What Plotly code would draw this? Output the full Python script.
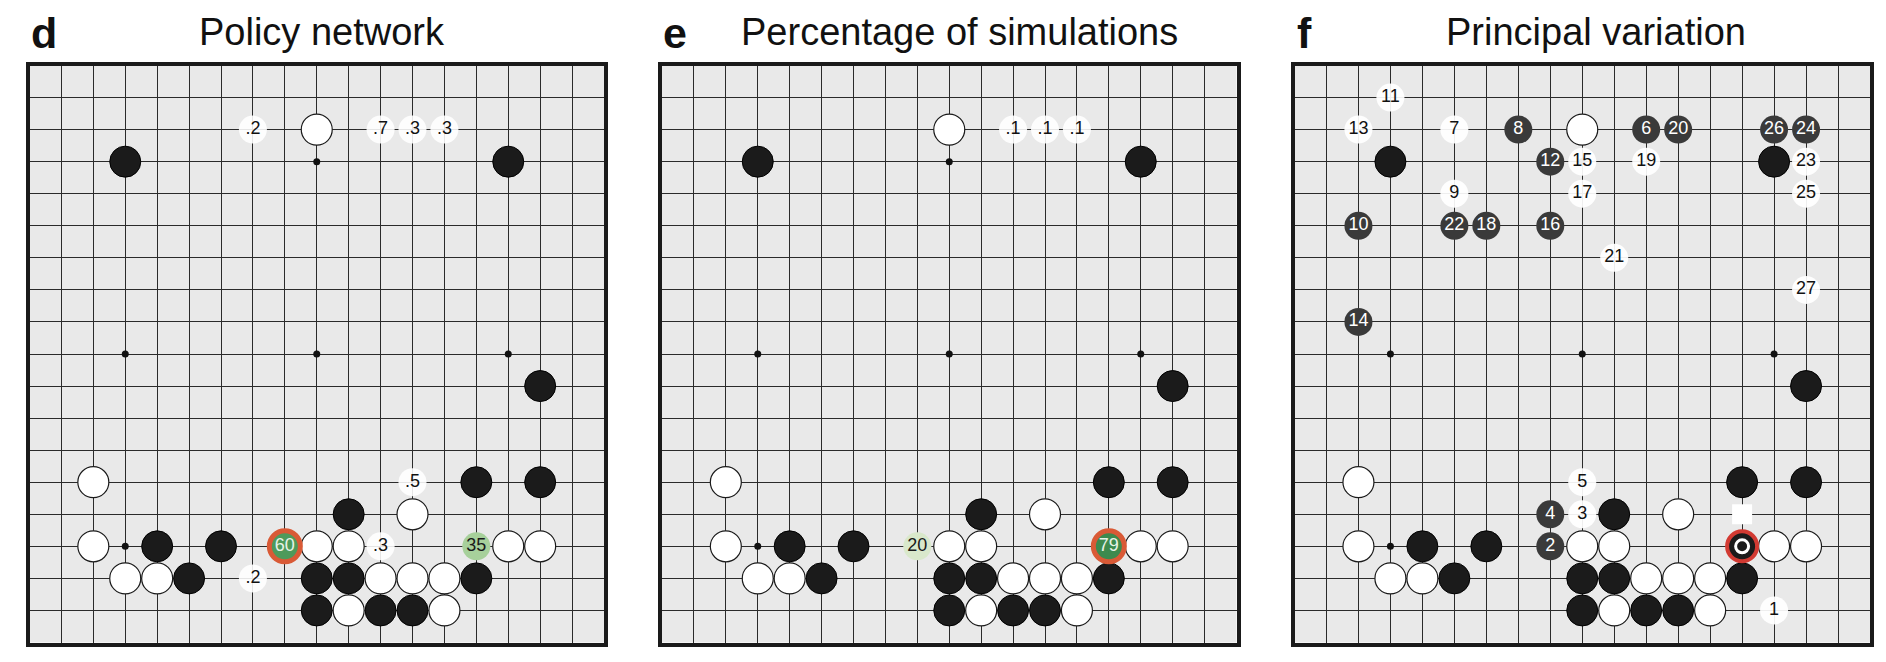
import plotly.graph_objects as go

# board positions are (column, row) counted from the top-left corner, 0..18
black_cols = [3, 15, 16, 14, 16, 10, 4, 6, 5, 9, 10, 14, 9, 11, 12]
black_rows = [3, 3, 10, 13, 13, 14, 15, 15, 16, 16, 16, 16, 17, 17, 17]
white_cols = [9, 2, 12, 2, 9, 10, 15, 16, 3, 4, 11, 12, 13, 10, 13]
white_rows = [2, 13, 14, 15, 15, 15, 15, 15, 16, 16, 16, 16, 16, 17, 17]
star_cols = [3, 9, 15, 3, 9, 15, 3, 9, 15]
star_rows = [3, 3, 3, 9, 9, 9, 15, 15, 15]

# d: policy network move probabilities (%)
policy_cols = [7, 11, 12, 13, 12, 11, 7]
policy_rows = [2, 2, 2, 2, 13, 15, 16]
policy_text = ['.2', '.7', '.3', '.3', '.5', '.3', '.2']
policy_best = (8, 15, '60')
policy_second = (14, 15, '35')

# e: percentage of simulations
sims_cols = [11, 12, 13]
sims_rows = [2, 2, 2]
sims_text = ['.1', '.1', '.1']
sims_best = (14, 15, '79')
sims_second = (8, 15, '20')

# f: principal variation, move number -> position
pv_moves = list(range(1, 28))
pv_cols = [15, 8, 9, 8, 9, 11, 5, 7, 5, 2, 3, 8, 2, 2, 9, 8, 9, 6, 11, 12, 10, 5, 16, 16, 16, 15, 16]
pv_rows = [17, 15, 14, 14, 13, 2, 2, 2, 4, 5, 1, 3, 2, 8, 3, 5, 4, 5, 3, 2, 6, 5, 3, 2, 4, 2, 7]
played_move = (14, 15)
square_mark = (14, 14)

titles = ['Policy network', 'Percentage of simulations', 'Principal variation']
letters = ['d', 'e', 'f']

# the page body adds an 8px margin, so everything is placed 8px up/left
OFF = 8
W, H = 1886 - 2 * OFF, 662 - 2 * OFF
board_px = [(29.5, 604), (662, 1236.5), (1294.5, 1870)]
board_top, board_bottom = 65.5, 642.5
title_centers = [322, 960, 1596]
letter_x = [30, 662, 1296]

STONE = 31
FONT = 'Liberation Sans, Arial, sans-serif'

fig = go.Figure()


def ax(i):
    return ('x' if i == 0 else 'x%d' % (i + 1)), ('y' if i == 0 else 'y%d' % (i + 1))


def add_base(i):
    xa, ya = ax(i)
    fig.add_trace(go.Scatter(x=star_cols, y=star_rows, mode='markers', xaxis=xa, yaxis=ya,
                             marker=dict(size=7, color='#111'), hoverinfo='skip'))
    fig.add_trace(go.Scatter(x=black_cols, y=black_rows, mode='markers', xaxis=xa, yaxis=ya,
                             marker=dict(size=STONE, color='#1b1b1b', line=dict(color='#000', width=1)),
                             hoverinfo='skip'))
    fig.add_trace(go.Scatter(x=white_cols, y=white_rows, mode='markers', xaxis=xa, yaxis=ya,
                             marker=dict(size=STONE, color='#ffffff', line=dict(color='#1a1a1a', width=1.2)),
                             hoverinfo='skip'))


def add_labels(i, cols, rows, text, fill, txtcolor, size=28, line=None):
    xa, ya = ax(i)
    fig.add_trace(go.Scatter(x=cols, y=rows, text=text, mode='markers+text', xaxis=xa, yaxis=ya,
                             textposition='middle center',
                             textfont=dict(family=FONT, size=18, color=txtcolor),
                             marker=dict(size=size, color=fill, line=line or dict(width=0)),
                             hoverinfo='skip'))


for i in range(3):
    add_base(i)

# d
add_labels(0, policy_cols, policy_rows, policy_text, 'rgba(255,255,255,0.88)', '#111')
add_labels(0, [policy_second[0]], [policy_second[1]], [policy_second[2]], '#a7d09b', '#1a1a1a')
add_labels(0, [policy_best[0]], [policy_best[1]], [policy_best[2]], '#4e9a5b', '#e8f3e8',
           size=31, line=dict(color='#d95a36', width=5))

# e
add_labels(1, sims_cols, sims_rows, sims_text, 'rgba(255,255,255,0.88)', '#111')
add_labels(1, [sims_second[0]], [sims_second[1]], [sims_second[2]], '#d9e8cb', '#1a1a1a')
add_labels(1, [sims_best[0]], [sims_best[1]], [sims_best[2]], '#3d8a4e', '#e8f3e8',
           size=31, line=dict(color='#d95a36', width=5))

# f
xa, ya = ax(2)
fig.add_trace(go.Scatter(x=[played_move[0]], y=[played_move[1]], mode='markers', xaxis=xa, yaxis=ya,
                         marker=dict(size=30, color='#1b1b1b', line=dict(color='#d23a32', width=4)),
                         hoverinfo='skip'))
fig.add_trace(go.Scatter(x=[played_move[0]], y=[played_move[1]], mode='markers', xaxis=xa, yaxis=ya,
                         marker=dict(size=13, symbol='circle-open', color='#ffffff', line=dict(width=3)),
                         hoverinfo='skip'))
fig.add_trace(go.Scatter(x=[square_mark[0]], y=[square_mark[1]], mode='markers', xaxis=xa, yaxis=ya,
                         marker=dict(size=20, symbol='square', color='#ffffff'), hoverinfo='skip'))
odd = [k for k, m in enumerate(pv_moves) if m % 2 == 1]
even = [k for k, m in enumerate(pv_moves) if m % 2 == 0]
add_labels(2, [pv_cols[k] for k in odd], [pv_rows[k] for k in odd], [str(pv_moves[k]) for k in odd],
           'rgba(255,255,255,0.92)', '#111')
add_labels(2, [pv_cols[k] for k in even], [pv_rows[k] for k in even], [str(pv_moves[k]) for k in even],
           '#3a3a3a', '#ffffff')

layout = dict(
    width=W, height=H,
    margin=dict(l=0, r=0, t=0, b=0),
    paper_bgcolor='white',
    plot_bgcolor='#e9e9e9',
    showlegend=False,
)
annotations = []
for i in range(3):
    x0, x1 = board_px[i]
    axis_common = dict(tick0=0, dtick=1, showticklabels=False, ticks='',
                       showgrid=True, gridcolor='#2a2a2a', gridwidth=1.3, zeroline=False,
                       showline=True, mirror=True, linecolor='#1a1a1a', linewidth=3.5,
                       fixedrange=True)
    xkey = 'xaxis' if i == 0 else 'xaxis%d' % (i + 1)
    ykey = 'yaxis' if i == 0 else 'yaxis%d' % (i + 1)
    xa, ya = ax(i)
    layout[xkey] = dict(axis_common, range=[0, 18],
                        domain=[(x0 - OFF) / W, (x1 - OFF) / W], anchor=ya)
    layout[ykey] = dict(axis_common, range=[18, 0],
                        domain=[1 - (board_bottom - OFF) / H, 1 - (board_top - OFF) / H], anchor=xa)
    annotations.append(dict(text=titles[i], x=(title_centers[i] - OFF) / W, y=1 - 1.5 / H,
                            xref='paper', yref='paper', xanchor='center', yanchor='top', borderpad=0,
                            showarrow=False, font=dict(family=FONT, size=38, color='#111')))
    annotations.append(dict(text='<b>%s</b>' % letters[i], x=(letter_x[i] - OFF) / W, y=1,
                            xref='paper', yref='paper', xanchor='left', yanchor='top', borderpad=0,
                            showarrow=False, font=dict(family=FONT, size=43, color='#111')))
layout['annotations'] = annotations
fig.update_layout(**layout)

fig.write_html("out.html")
